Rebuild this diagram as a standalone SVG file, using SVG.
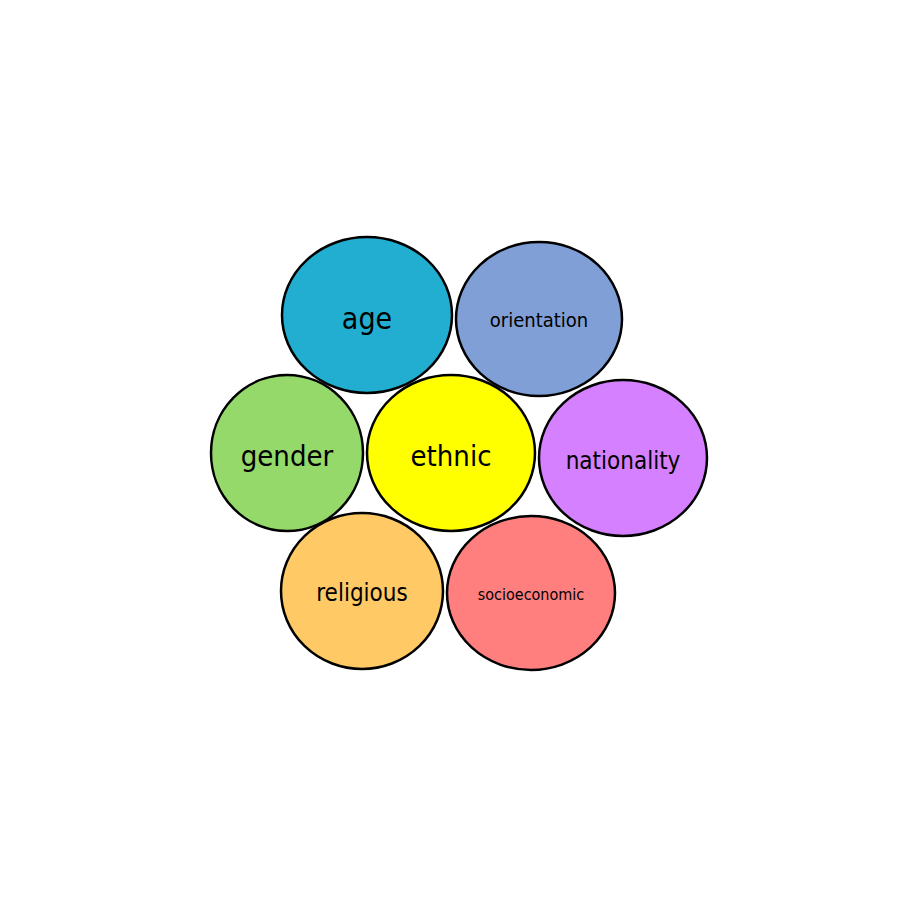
<svg xmlns="http://www.w3.org/2000/svg" width="920" height="920" viewBox="0 0 920 920">
<style>
ellipse{stroke:#000;stroke-width:2.5}
text{font-family:"DejaVu Sans Condensed","DejaVu Sans","Liberation Sans",sans-serif;text-anchor:middle;dominant-baseline:central;fill:#000}
</style>
<rect width="920" height="920" fill="#fff"/>
<g id="connectors"/>
<g id="age"><ellipse cx="367" cy="315" rx="85" ry="78" fill="#22AED1"/><text x="367" y="318" font-size="30">age</text></g>
<g id="orientation"><ellipse cx="539" cy="319" rx="83" ry="77" fill="#7F9FD6"/><text x="539" y="320" font-size="20">orientation</text></g>
<g id="gender"><ellipse cx="287" cy="453" rx="76" ry="78" fill="#95D96A"/><text x="287" y="456" font-size="29">gender</text></g>
<g id="ethnic"><ellipse cx="451" cy="453" rx="84" ry="78" fill="#FFFF00"/><text x="451" y="456" font-size="29">ethnic</text></g>
<g id="nationality"><ellipse cx="623" cy="458" rx="84" ry="78" fill="#D580FF"/><text x="623" y="461" font-size="24">nationality</text></g>
<g id="religious"><ellipse cx="362" cy="591" rx="81" ry="78" fill="#FFC966"/><text x="362" y="593" font-size="24">religious</text></g>
<g id="socioeconomic"><ellipse cx="531" cy="593" rx="84" ry="77" fill="#FF7F7F"/><text x="531" y="594" font-size="16">socioeconomic</text></g>
</svg>
